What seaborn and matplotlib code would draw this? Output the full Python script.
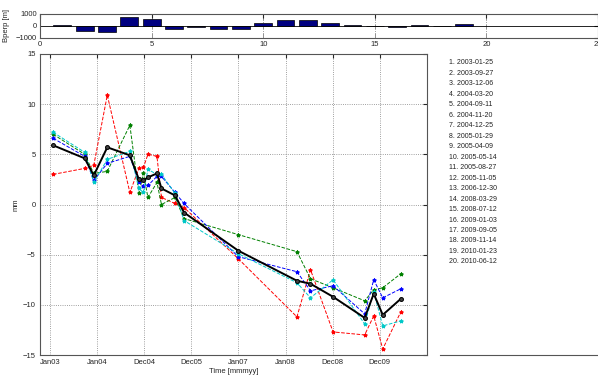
import matplotlib.pyplot as plt
import matplotlib.dates as mdates
import numpy as np
import pandas as pd
import seaborn as sns
from datetime import datetime

# acquisition dates (right-hand list)
dates = ['2003-01-25', '2003-09-27', '2003-12-06', '2004-03-20', '2004-09-11',
         '2004-11-20', '2004-12-25', '2005-01-29', '2005-04-09', '2005-05-14',
         '2005-08-27', '2005-11-05', '2006-12-30', '2008-03-29', '2008-07-12',
         '2009-01-03', '2009-09-05', '2009-11-14', '2010-01-23', '2010-06-12']

# displacement series [mm]
black = [5.9, 4.6, 2.9, 5.7, 4.9, 2.5, 2.4, 2.7, 3.1, 1.6, 0.9, -0.8, -4.6, -7.6, -7.9, -9.2, -11.3, -8.9, -11.0, -9.4]
red = [3.0, 3.6, 3.9, 10.9, 1.2, 3.6, 3.7, 5.0, 4.8, 0.7, 0.1, -0.3, -5.4, -11.2, -6.5, -12.7, -13.0, -11.1, -14.4, -10.7]
green = [7.0, 5.0, 3.1, 3.3, 7.9, 1.1, 3.1, 0.7, 2.2, 0.0, 0.7, -1.4, -3.0, -4.7, -7.4, -8.3, -9.6, -8.5, -8.3, -6.9]
blue = [6.6, 4.8, 2.4, 4.1, 4.8, 2.2, 1.8, 1.9, 2.8, 2.8, 1.2, 0.1, -5.2, -6.7, -8.6, -8.1, -10.9, -7.5, -9.3, -8.4]
cyan = [7.2, 5.2, 2.2, 4.5, 5.3, 1.6, 1.2, 3.5, 3.0, 3.0, 1.1, -1.6, -4.9, -7.8, -9.3, -7.5, -11.9, -8.7, -12.1, -11.6]

# perpendicular baselines [m]
bar_idx = list(range(1, 20))
bperp = [110, -380, -490, 760, 570, -215, -110, -270, -270, 245, 460, 480, 215, 110, -10, -110, 110, 0, 130]

tick_labels = ['Jan03', 'Jan04', 'Dec04', 'Dec05', 'Jan07', 'Jan08', 'Dec08', 'Dec09']

sns.set_style("white")
plt.rcParams['font.family'] = ['Liberation Sans', 'DejaVu Sans']
plt.rcParams['font.size'] = 5.5

W, H = 598, 376
fig = plt.figure(figsize=(W / 100, H / 100), dpi=100)

def box(l, t, r, b):
    return [l / W, 1 - b / H, (r - l) / W, (b - t) / H]

# ---- top bar chart ----
axb = fig.add_axes(box(40, 14, 598, 38))
sns.barplot(x=bar_idx, y=bperp, native_scale=True, width=0.8, color='#000080',
            edgecolor='black', linewidth=0.5, saturation=1, ax=axb)
axb.axhline(0, color='black', lw=0.6)
axb.set_xlim(0, 25)
axb.set_ylim(-1000, 1000)
axb.set_xticks([0, 5, 10, 15, 20, 25])
axb.set_yticks([-1000, 0, 1000])
axb.set_ylabel('Bperp [m]', fontsize=5.5)
axb.yaxis.set_label_coords(-30 / 558, 0.5)
axb.set_xlabel('')
axb.tick_params(direction='in', length=3, labelsize=5.5, top=True, right=True, pad=2)
axb.grid(True, axis='x', linestyle='-.', color='gray', linewidth=0.6)
for s in axb.spines.values():
    s.set_color('#555555')
    s.set_linewidth(0.8)

# ---- main time series ----
ax = fig.add_axes(box(40, 54, 427, 355))
t = pd.to_datetime(dates)
series = [(red, 'red'), (green, '#008000'), (blue, 'blue'), (cyan, '#00c8c8')]
for vals, col in series:
    sns.lineplot(x=t, y=vals, ax=ax, color=col, linestyle='--', linewidth=0.7,
                 marker='*', markersize=2.8, markeredgecolor=col)
sns.lineplot(x=t, y=black, ax=ax, color='black', linewidth=1.4, marker='o',
             markersize=2.8, markeredgecolor='black', markerfacecolor='#444444')

t0 = mdates.date2num(datetime(2003, 1, 1))
ax.set_xticks([t0 + k * 365.25 for k in range(len(tick_labels))])
ax.set_xticklabels(tick_labels)
ax.set_xlim(t0 - 77.5, t0 + 2922)
ax.set_ylim(-15, 15)
ax.set_yticks([-15, -10, -5, 0, 5, 10, 15])
ax.set_xlabel('Time [mmmyy]', fontsize=5.5, labelpad=1)
ax.set_ylabel('mm', fontsize=5.5)
ax.yaxis.set_label_coords(-20 / 387, 0.5)
ax.tick_params(direction='in', length=3, labelsize=5.5, top=True, right=True, pad=3)
ax.grid(True, linestyle=':', color='gray', linewidth=0.6)
for s in ax.spines.values():
    s.set_color('#555555')
    s.set_linewidth(0.8)

# ---- date list ----
axl = fig.add_axes(box(440, 54, 598, 355))
axl.set_xticks([])
axl.set_yticks([])
for side in ['top', 'left', 'right']:
    axl.spines[side].set_visible(False)
axl.spines['bottom'].set_color('#555555')
for i, d in enumerate(dates):
    fig.text(449 / W, 1 - (63 + i * 10.47) / H, f'{i + 1}. {d}', fontsize=5,
             va='center', ha='left', color='#222222')

fig.savefig('out.png', dpi=100)
